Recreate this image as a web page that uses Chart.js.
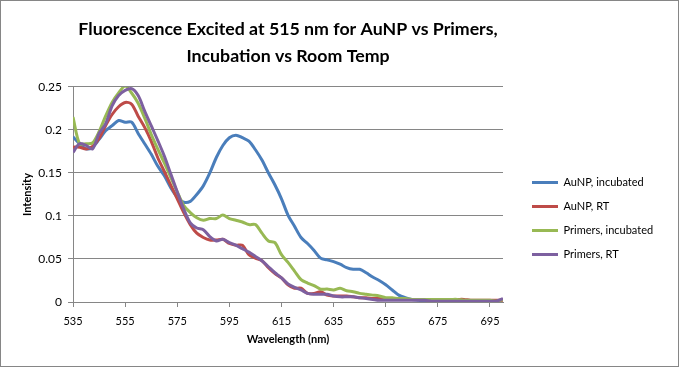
<!DOCTYPE html>
<html><head><meta charset="utf-8">
<script src="https://cdn.jsdelivr.net/npm/chart.js@4.4.1/dist/chart.umd.min.js"></script>
<style>html,body{margin:0;padding:0;background:#fff;}#wrap{width:679px;height:367px;}</style>
</head><body><div id="wrap"><canvas id="c" width="679" height="367"></canvas></div>
<script>
const wavelengths = [535,537.5,540,542.5,545,547.5,550,552.5,555,557.5,560,562.5,565,567.5,570,572.5,575,577.5,580,582.5,585,587.5,590,592.5,595,597.5,600,602.5,605,607.5,610,612.5,615,617.5,620,622.5,625,627.5,630,632.5,635,637.5,640,642.5,645,647.5,650,652.5,655,657.5,660,662.5,665,667.5,670,672.5,675,677.5,680,682.5,685,687.5,690,692.5,695,697.5,700];
const auNPIncubated = [0.192,0.184,0.178,0.180,0.189,0.199,0.205,0.211,0.209,0.209,0.196,0.184,0.172,0.158,0.147,0.133,0.122,0.116,0.117,0.125,0.135,0.150,0.168,0.182,0.191,0.194,0.191,0.187,0.177,0.165,0.150,0.136,0.120,0.101,0.088,0.075,0.068,0.060,0.051,0.049,0.047,0.044,0.040,0.038,0.038,0.034,0.029,0.025,0.020,0.014,0.008,0.005,0.003,0.002,0.001,0.001,0.000,0.000,0.000,0.000,0.000,0.000,0.000,0.000,0.000,0.000,0.003];
const auNPRT = [0.180,0.180,0.178,0.181,0.190,0.205,0.218,0.227,0.232,0.230,0.216,0.203,0.187,0.168,0.152,0.136,0.120,0.104,0.090,0.080,0.075,0.072,0.072,0.073,0.068,0.066,0.066,0.055,0.051,0.048,0.040,0.033,0.028,0.020,0.016,0.016,0.010,0.010,0.012,0.008,0.007,0.007,0.007,0.006,0.005,0.005,0.004,0.004,0.004,0.004,0.003,0.003,0.003,0.003,0.003,0.003,0.003,0.003,0.003,0.003,0.003,0.002,0.002,0.002,0.002,0.002,0.002];
const primersIncubated = [0.215,0.184,0.184,0.185,0.198,0.216,0.232,0.243,0.251,0.243,0.231,0.214,0.195,0.178,0.162,0.145,0.128,0.112,0.104,0.098,0.095,0.097,0.097,0.101,0.097,0.095,0.093,0.090,0.090,0.080,0.071,0.069,0.055,0.046,0.036,0.026,0.022,0.019,0.015,0.015,0.014,0.016,0.013,0.012,0.010,0.009,0.008,0.007,0.005,0.005,0.004,0.004,0.003,0.003,0.003,0.003,0.003,0.003,0.003,0.003,0.002,0.002,0.002,0.002,0.002,0.001,0.003];
const primersRT = [0.174,0.184,0.182,0.178,0.196,0.207,0.228,0.240,0.246,0.248,0.240,0.222,0.205,0.188,0.170,0.149,0.128,0.108,0.092,0.086,0.084,0.076,0.071,0.073,0.069,0.066,0.062,0.058,0.053,0.048,0.041,0.034,0.028,0.021,0.017,0.014,0.010,0.009,0.009,0.009,0.007,0.006,0.006,0.006,0.005,0.004,0.003,0.002,0.002,0.002,0.002,0.002,0.002,0.002,0.002,0.001,0.001,0.001,0.001,0.001,0.001,0.001,0.001,0.001,0.001,0.001,0.004];
const seriesNames = ['AuNP, incubated','AuNP, RT','Primers, incubated','Primers, RT'];
const xTickValues = [535,555,575,595,615,635,655,675,695];
const titleLines = ['Fluorescence Excited at 515 nm for AuNP vs Primers,','Incubation vs Room Temp'];

const FONT = 'Lato, "Open Sans", sans-serif';
const colors = ['#4A7EBB','#BE4B48','#98B954','#7D60A0'];
const allSeries = [auNPIncubated, auNPRT, primersIncubated, primersRT];

function legendMark(color){
  const cv = document.createElement('canvas');
  cv.width = 42; cv.height = 3;
  const g = cv.getContext('2d');
  g.fillStyle = color; g.fillRect(16, 0, 26, 3);
  return cv;
}

const frame = {
  id: 'frame',
  beforeDraw(chart){ const c = chart.ctx; c.save(); c.fillStyle = '#fff'; c.fillRect(0,0,chart.width,chart.height); c.restore(); },
  afterDraw(chart){ const c = chart.ctx; c.save(); c.strokeStyle = '#868686'; c.lineWidth = 1; c.strokeRect(0.5,0.5,chart.width-1,chart.height-1); c.restore(); }
};

new Chart(document.getElementById('c'), {
  type: 'line',
  data: {
    datasets: allSeries.map((arr, i) => ({
      label: seriesNames[i],
      data: wavelengths.map((w, j) => ({x: w, y: arr[j]})),
      borderColor: colors[i],
      backgroundColor: colors[i],
      borderWidth: 3,
      pointRadius: 0,
      pointStyle: legendMark(colors[i]),
      tension: 0.3,
      fill: false,
      order: 4 - i
    }))
  },
  options: {
    responsive: false,
    animation: false,
    devicePixelRatio: 1,
    layout: { padding: { left: 0, right: 16, top: 0, bottom: 21 } },
    plugins: {
      title: {
        display: true, text: titleLines, fullSize: false, color: '#000',
        font: { family: FONT, size: 17.75, weight: 'bold', lineHeight: 1.52 },
        padding: { top: 16, bottom: 17 }
      },
      legend: {
        position: 'right', fullSize: false, align: 'center', maxWidth: 160,
        title: { display: true, text: ' ', font: { size: 10 }, padding: { top: 36, bottom: 0 } },
        labels: {
          usePointStyle: true, pointStyleWidth: 42, boxHeight: 11,
          font: { family: FONT, size: 11 }, color: '#000', padding: 13,
          sort: (a, b) => a.datasetIndex - b.datasetIndex
        }
      },
      tooltip: { enabled: false }
    },
    scales: {
      x: {
        type: 'linear', min: 535, max: 700,
        afterBuildTicks: s => { s.ticks = xTickValues.map(v => ({ value: v })); },
        ticks: { font: { family: FONT, size: 11 }, color: '#000', padding: 8, maxRotation: 0, autoSkip: false, callback: v => String(v) },
        grid: { drawOnChartArea: false, drawTicks: true, tickLength: 5, color: '#868686' },
        border: { color: '#868686' },
        title: { display: true, text: 'Wavelength (nm)', color: '#000', font: { family: FONT, size: 11, weight: 'bold' }, padding: { top: 0, bottom: 0 } },
        afterFit: s => { s.height = 44; }
      },
      y: {
        min: 0, max: 0.25,
        ticks: { stepSize: 0.05, font: { family: FONT, size: 12 }, color: '#000', padding: 6, callback: v => String(Number(v.toFixed(2))) },
        grid: { color: '#868686', tickLength: 5 },
        border: { color: '#868686' },
        title: { display: true, text: 'Intensity', color: '#000', font: { family: FONT, size: 11, weight: 'bold' }, padding: { top: 21, bottom: 0 } },
        afterFit: s => { s.width = 73; }
      }
    }
  },
  plugins: [frame]
});
</script>
</body></html>
